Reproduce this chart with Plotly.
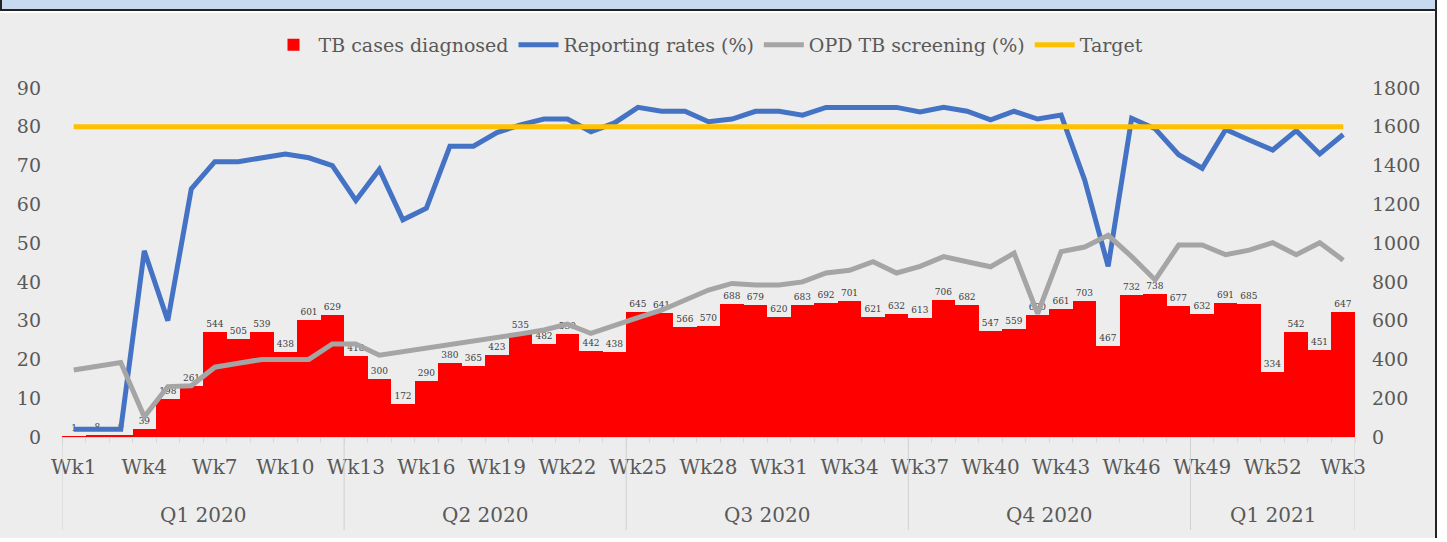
import plotly.graph_objects as go

# ---------------- data ----------------
weeks = [f"Wk{i}" for i in range(1, 53)] + ["Wk1", "Wk2", "Wk3"]
quarters = ["Q1 2020", "Q2 2020", "Q3 2020", "Q4 2020", "Q1 2021"]
quarter_sizes = [12, 12, 12, 12, 7]

tb_cases = [1, 8, 9, 39, 198, 261, 544, 505, 539, 438, 601, 629,
            418, 300, 172, 290, 380, 365, 423, 535, 482, 530, 442, 438,
            645, 641, 566, 570, 688, 679, 620, 683, 692, 701, 621, 632,
            613, 706, 682, 547, 559, 630, 661, 703, 467, 732, 738, 677,
            632, 691, 685, 334, 542, 451, 647]

reporting_rates = [2, 2, 2, 48, 30, 64, 71, 71, 72, 73, 72, 70,
                   61, 69, 56, 59, 75, 75, 78.5, 80.5, 82, 82, 78.7, 81,
                   85, 84, 84, 81.3, 82, 84, 84, 83, 85, 85, 85, 85,
                   83.8, 85, 84, 81.8, 84, 82, 83, 66.3, 44, 82.2, 79.5, 72.8,
                   69.3, 79.3, 76.6, 74, 79, 73, 78]

opd_screening = [17.3, 18.1, 19.2, 5.2, 13, 13.2, 18, 19, 20, 20, 20, 24,
                 24, 21.1, 22, 22.9, 23.7, 24.8, 25.4, 26.6, 27.6, 29.1, 26.7, 28.9,
                 30.8, 32.7, 35.3, 37.9, 39.6, 39.2, 39.2, 40, 42.3, 43, 45.2, 42.3,
                 44, 46.5, 45.2, 43.9, 47.4, 31.8, 47.8, 49, 52, 46.5, 40.5, 49.5,
                 49.5, 47, 48.2, 50.1, 47, 50.1, 45.6]

target = [80] * len(weeks)

# ---------------- layout geometry ----------------
W, H = 1447, 542
L, R, T, B = 62, 92, 88, 105
PW, PH = W - L - R, H - T - B

def px(x):
    return (x - L) / PW

def py(y):
    return (H - B - y) / PH

FONT = "DejaVu Serif"
TXT = "#595959"

x = list(range(len(weeks)))
tick_idx = list(range(0, len(weeks), 3))

fig = go.Figure()

fig.add_trace(go.Bar(
    x=x, y=tb_cases, name="TB cases diagnosed", yaxis="y",
    marker=dict(color="#FF0000", line=dict(width=0)),
    text=[str(v) for v in tb_cases], textposition="outside",
    textfont=dict(family=FONT, size=9, color="#404040"),
    constraintext="none", cliponaxis=False,
))
fig.add_trace(go.Scatter(
    x=x, y=reporting_rates, name="Reporting rates (%)", yaxis="y2",
    mode="lines", line=dict(color="#4472C4", width=5),
))
fig.add_trace(go.Scatter(
    x=x, y=opd_screening, name="OPD TB screening (%)", yaxis="y2",
    mode="lines", line=dict(color="#A5A5A5", width=5),
))
fig.add_trace(go.Scatter(
    x=x, y=target, name="Target", yaxis="y2",
    mode="lines", line=dict(color="#FFC000", width=5),
))

# quarter annotations and dividers
annotations = []
shapes = []
start = 0
bounds = [-0.5]
for q, n in zip(quarters, quarter_sizes):
    center = start + (n - 1) / 2
    annotations.append(dict(
        x=center, xref="x", y=py(515), yref="paper", text=q, showarrow=False,
        font=dict(family=FONT, size=20, color=TXT), yanchor="middle"))
    start += n
    bounds.append(start - 0.5)
for b in bounds:
    shapes.append(dict(type="line", xref="x", yref="paper", x0=b, x1=b,
                       y0=0, y1=py(530), line=dict(color="#D0D0D0", width=1)))

# frame decorations (pixel positions converted to paper coords)
shapes += [
    dict(type="rect", xref="paper", yref="paper", x0=px(0), x1=px(1437),
         y0=py(0), y1=py(9), fillcolor="#C6D9EF", line=dict(width=0), layer="above"),
    dict(type="rect", xref="paper", yref="paper", x0=px(0), x1=px(1437),
         y0=py(9), y1=py(11), fillcolor="#222222", line=dict(width=0), layer="above"),
    dict(type="rect", xref="paper", yref="paper", x0=px(0), x1=px(1437),
         y0=py(11), y1=py(13), fillcolor="#FFFFFF", line=dict(width=0), layer="above"),
    dict(type="rect", xref="paper", yref="paper", x0=px(1437), x1=px(1448),
         y0=py(0), y1=py(543), fillcolor="#FFFFFF", line=dict(width=0), layer="above"),
    dict(type="rect", xref="paper", yref="paper", x0=px(1435), x1=px(1437),
         y0=py(0), y1=py(543), fillcolor="#222222", line=dict(width=0), layer="above"),
    dict(type="rect", xref="paper", yref="paper", x0=px(0), x1=px(2),
         y0=py(0), y1=py(11), fillcolor="#222222", line=dict(width=0), layer="above"),
    dict(type="rect", xref="paper", yref="paper", x0=px(0), x1=px(1437),
         y0=py(538), y1=py(543), fillcolor="#FFFFFF", line=dict(width=0), layer="above"),
]

fig.update_layout(
    width=W, height=H,
    margin=dict(l=L, r=R, t=T, b=B, pad=0),
    paper_bgcolor="#EDEDED", plot_bgcolor="#EDEDED",
    bargap=0,
    font=dict(family=FONT, color=TXT),
    showlegend=True,
    legend=dict(orientation="h", x=0.5, xanchor="center", y=py(45), yanchor="middle",
                font=dict(family=FONT, size=19, color=TXT), bgcolor="rgba(0,0,0,0)",
                itemwidth=40, tracegroupgap=0),
    xaxis=dict(
        range=[-0.5, len(weeks) - 0.5], tickmode="array", tickvals=tick_idx,
        ticktext=[weeks[i] for i in tick_idx], ticks="", showgrid=False, zeroline=False,
        showline=True, linecolor="#D9D9D9", linewidth=1,
        tickfont=dict(family=FONT, size=20, color=TXT), ticklabelstandoff=12,
        minor=dict(tick0=-0.5, dtick=1, ticks="outside", ticklen=5, tickcolor="#D9D9D9", showgrid=False),
    ),
    yaxis=dict(
        side="right", range=[0, 1800], dtick=200, showgrid=False, zeroline=False,
        showline=False, ticks="", tickfont=dict(family=FONT, size=19, color=TXT),
        ticklabelstandoff=16,
    ),
    yaxis2=dict(
        side="left", overlaying="y", range=[0, 90], dtick=10, showgrid=False,
        zeroline=False, showline=False, ticks="",
        tickfont=dict(family=FONT, size=19, color=TXT), ticklabelstandoff=20,
    ),
    annotations=annotations,
    shapes=shapes,
)

fig.write_html("out.html", config={"displayModeBar": False},
               post_script="document.body.style.margin='0';")
